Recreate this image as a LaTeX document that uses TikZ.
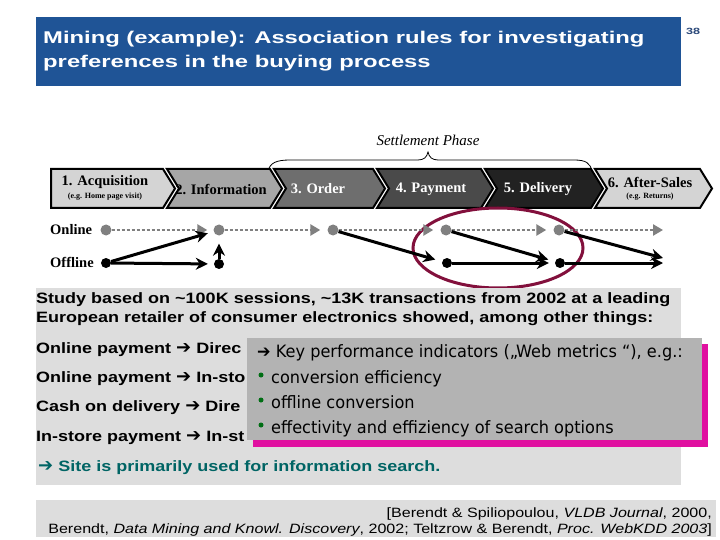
\documentclass[tikz,border=0pt]{standalone}
\usepackage{fontspec}
\setmainfont{Liberation Serif}
\newfontfamily\titlefont{Liberation Sans}[FakeStretch=1.40]
\newfontfamily\panelfont{Liberation Sans}[FakeStretch=1.20]
\newfontfamily\arrowfont{DejaVu Sans}
\newfontfamily\ovfont{DejaVu Sans}[FakeStretch=0.95]
\newfontfamily\footfont{Liberation Sans}[FakeStretch=1.19]
\usetikzlibrary{arrows.meta,shapes.geometric}
\definecolor{titleblue}{RGB}{31,84,150}
\definecolor{pagenum}{RGB}{40,70,120}
\definecolor{panelgray}{RGB}{221,221,221}
\definecolor{overgray}{RGB}{179,179,179}
\definecolor{shadowpink}{RGB}{224,16,160}
\definecolor{focusred}{RGB}{130,16,60}
\definecolor{tealtext}{RGB}{0,100,100}
\definecolor{bulletgreen}{RGB}{0,110,20}
\definecolor{chevA}{RGB}{212,212,212}
\definecolor{chevB}{RGB}{166,166,166}
\definecolor{chevC}{RGB}{110,110,110}
\definecolor{chevD}{RGB}{74,74,74}
\definecolor{chevE}{RGB}{34,34,34}
\definecolor{dotgray}{RGB}{128,128,128}
\newcommand{\bigarrow}{{\arrowfont\bfseries\fontsize{18}{17}\selectfont ➔}}
\tikzset{
  chevron/.style={draw=black, line width=2pt, line join=miter},
  chevlabel/.style={font=\fontsize{14.5}{16}\selectfont\bfseries, inner sep=0pt},
  chevsmall/.style={font=\fontsize{8}{9}\selectfont\bfseries, inner sep=0pt},
  rowlabel/.style={font=\fontsize{14.5}{16}\selectfont\bfseries, anchor=base west, inner sep=0pt},
  gdot/.style={circle, fill=dotgray, inner sep=0pt, minimum size=11pt},
  bdot/.style={circle, fill=black, inner sep=0pt, minimum size=10pt},
  garrow/.style={draw=dotgray, line width=2.5pt, dash pattern=on 3pt off 2pt, -{Triangle[length=10pt,width=11pt,fill=dotgray]}},
  barrow/.style={draw=black, line width=3pt, -{Stealth[length=12pt,width=12pt]}},
  paneltext/.style={font=\panelfont\bfseries\fontsize{15}{17}\selectfont, anchor=base west, inner sep=0pt},
  overtext/.style={font=\ovfont\fontsize{17}{19}\selectfont, anchor=base west, inner sep=0pt},
  foottext/.style={font=\footfont\fontsize{13.5}{15}\selectfont, anchor=base east, inner sep=0pt},
  titletext/.style={font=\titlefont\bfseries\fontsize{17}{20}\selectfont, text=white, anchor=base west, inner sep=0pt},
  bulletdot/.style={circle, fill=bulletgreen, inner sep=0pt, minimum size=5pt}
}
\begin{document}
\begin{tikzpicture}[x=1pt,y=-1pt]
\useasboundingbox[fill=white] (0,0) rectangle (720,540);

% title
\fill[titleblue] (36,17) rectangle (681,86);
\node[titletext] (t1) at (43,43.5) {Mining (example): Association rules for investigating};
\node[titletext] (t2) at (43,67.5) {preferences in the buying process};
\node[font=\titlefont\bfseries\fontsize{9}{10}\selectfont, text=pagenum, inner sep=0pt] (pn) at (693,31) {38};

% settlement phase brace
\node[font=\itshape\fontsize{15}{17}\selectfont, anchor=base, inner sep=0pt] (settle) at (428,146) {Settlement Phase};
\draw[line width=0.8pt] (268,171) .. controls (270,163) and (276,160) .. (290,160)
  -- (418,160) .. controls (424,160) and (427,157) .. (428,152)
  .. controls (429,157) and (432,160) .. (438,160)
  -- (574,160) .. controls (586,160) and (590,163) .. (592,171);

% chevrons
\filldraw[chevron, fill=chevA] (51,169) -- (163,169) -- (175,188.5) -- (163,208) -- (51,208) -- cycle;
\filldraw[chevron, fill=chevB] (167,169) -- (270,169) -- (282,188.5) -- (270,208) -- (167,208) -- (179,188.5) -- cycle;
\filldraw[chevron, fill=chevC] (274,169) -- (373,169) -- (385,188.5) -- (373,208) -- (274,208) -- (286,188.5) -- cycle;
\filldraw[chevron, fill=chevD] (377,169) -- (481,169) -- (493,188.5) -- (481,208) -- (377,208) -- (389,188.5) -- cycle;
\filldraw[chevron, fill=chevE] (485,169) -- (591,169) -- (603,188.5) -- (591,208) -- (485,208) -- (497,188.5) -- cycle;
\filldraw[chevron, fill=chevA] (595,169) -- (700,169) -- (712,188.5) -- (700,208) -- (595,208) -- (607,188.5) -- cycle;

\node[chevlabel] (c1) at (105,182.5) {1. Acquisition};
\node[chevsmall] (c1s) at (105,196.5) {(e.g. Home page visit)};
\node[chevlabel] (c2) at (221,189) {2. Information};
\node[chevlabel, text=white] (c3) at (318,189) {3. Order};
\node[chevlabel, text=white] (c4) at (431,189) {4. Payment};
\node[chevlabel, text=white] (c5) at (538,189) {5. Delivery};
\node[chevlabel] (c6) at (650,182.5) {6. After-Sales};
\node[chevsmall] (c6s) at (650,196.5) {(e.g. Returns)};

% channels
\node[rowlabel] (online) at (50,235) {Online};
\node[rowlabel] (offline) at (50,267) {Offline};

% focus ellipse (behind dots)
\node[ellipse, draw=focusred, line width=3pt, minimum width=170pt, minimum height=80pt] (focus) at (498,248) {};

\node[gdot] (on1) at (106,230) {};
\node[gdot] (on2) at (219,230) {};
\node[gdot] (on3) at (333,230) {};
\node[gdot] (on4) at (446,230) {};
\node[gdot] (on5) at (559,230) {};
\coordinate (onend) at (663,230);
\node[bdot] (off1) at (106,263) {};
\node[bdot] (off2) at (219,264) {};
\node[bdot] (off3) at (447,263) {};
\node[bdot] (off4) at (560,263) {};
\coordinate (offend) at (663,263);
\coordinate (diagend) at (663,258);

\draw[garrow, shorten >=6pt] (on1) -- (on2);
\draw[garrow, shorten >=7pt] (on2) -- (on3);
\draw[garrow, shorten >=7pt] (on3) -- (on4);
\draw[garrow, shorten >=7pt] (on4) -- (on5);
\draw[garrow] (on5) -- (onend);

\draw[barrow, shorten >=6pt] (off1) -- (off2);
\draw[barrow, shorten >=6pt] (off1) -- (on2);
\draw[barrow, shorten >=8pt] (off2) -- (on2);
\draw[barrow, shorten >=7pt] (on3) -- (off3);
\draw[barrow, shorten >=6pt] (off3) -- (off4);
\draw[barrow, shorten >=7pt] (on4) -- (off4);
\draw[barrow] (off4) -- (offend);
\draw[barrow] (on5) -- (diagend);

% study panel
\fill[panelgray] (36,288) rectangle (681,485);
\node[paneltext] (s1) at (36,303) {Study based on \textasciitilde100K sessions, \textasciitilde13K transactions from 2002 at a leading};
\node[paneltext] (s2) at (36,322) {European retailer of consumer electronics showed, among other things:};
\node[paneltext] (r1) at (36,353) {Online payment \bigarrow{} Direc};
\node[paneltext] (r2) at (36,382) {Online payment \bigarrow{} In-sto};
\node[paneltext] (r3) at (36,411) {Cash on delivery \bigarrow{} Dire};
\node[paneltext] (r4) at (36,441) {In-store payment \bigarrow{} In-st};
\node[paneltext, text=tealtext] (concl) at (38,471) {\bigarrow{} Site is primarily used for information search.};

% overlay box with shadow
\fill[shadowpink] (253,344) rectangle (708,447);
\fill[overgray] (247,338) rectangle (702,440);
\node[overtext] (k0) at (257,357) {➔ Key performance indicators („Web metrics “), e.g.:};
\node[bulletdot] (b1) at (261,375) {};
\node[overtext] (k1) at (271,383) {conversion efficiency};
\node[bulletdot] (b2) at (261,400) {};
\node[overtext] (k2) at (271,408) {offline conversion};
\node[bulletdot] (b3) at (261,425) {};
\node[overtext] (k3) at (271,433) {effectivity and effiziency of search options};

% footer
\fill[panelgray] (36,500) rectangle (716,537);
\node[foottext] (f1) at (712,517) {[Berendt \& Spiliopoulou, \textit{VLDB Journal}, 2000,};
\node[foottext] (f2) at (712,533) {Berendt, \textit{Data Mining and Knowl. Discovery}, 2002; Teltzrow \& Berendt, \textit{Proc. WebKDD 2003}]};
\end{tikzpicture}
\end{document}
